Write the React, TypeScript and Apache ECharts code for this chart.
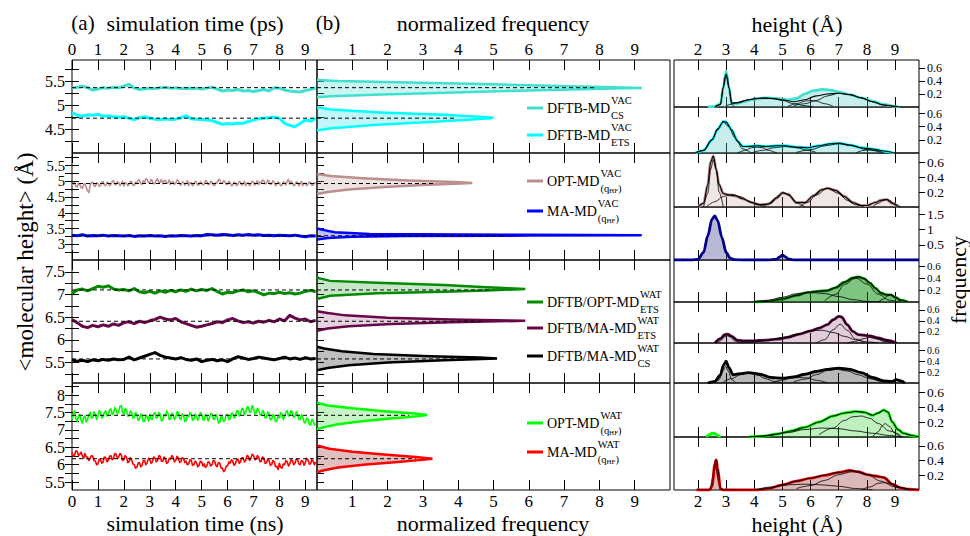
import React, { useEffect, useRef } from "react";
import * as echarts from "echarts";

type P = [number, number];
const SERIF = "Liberation Serif, DejaVu Serif, serif";
const SERIF_CSS = "'Liberation Serif', 'DejaVu Serif', serif";

// ---------------- tick values ----------------
const timeTicks = [0, 1, 2, 3, 4, 5, 6, 7, 8, 9];
const freqTicks = [1, 2, 3, 4, 5, 6, 7, 8, 9];
const heightTicks = [2, 3, 4, 5, 6, 7, 8, 9];

const rowYLabels = [
  [4.5, 5, 5.5],
  [3, 3.5, 4, 4.5, 5, 5.5],
  [5.5, 6, 6.5, 7, 7.5],
  [5.5, 6, 6.5, 7, 7.5, 8],
];
const rowYTicks = [
  [4.25, 4.5, 4.75, 5, 5.25, 5.5, 5.75],
  [2.75, 3, 3.25, 3.5, 3.75, 4, 4.25, 4.5, 4.75, 5, 5.25, 5.5, 5.75],
  [5.25, 5.5, 5.75, 6, 6.25, 6.5, 6.75, 7, 7.25, 7.5],
  [5.5, 5.75, 6, 6.25, 6.5, 6.75, 7, 7.25, 7.5, 7.75, 8, 8.25],
];
const rowYRange = [
  [4.0, 5.95],
  [2.5, 5.9],
  [5.05, 7.76],
  [5.27, 8.35],
];
const rightYMax = [0.72, 0.7, 0.72, 1.75, 0.7, 0.74, 0.73, 0.72, 0.72];
const rightYTicks = [
  [0.2, 0.4, 0.6], [0.2, 0.4, 0.6], [0.2, 0.4, 0.6], [0.5, 1, 1.5],
  [0.2, 0.4, 0.6], [0.2, 0.4, 0.6], [0.2, 0.4, 0.6], [0.2, 0.4, 0.6], [0.2, 0.4, 0.6],
];
const TIME_MAX = 9.45;
const FREQ_MAX = 10;
const HEIGHT_MIN = 1.15;
const HEIGHT_MAX = 9.85;

// ---------------- (a) time series ----------------
const STEP_SMOOTH = 0.2; // sampling of the smoother traces
const STEP_NOISY = 0.05; // sampling of the noisy traces

const csVacTime = [
  5.36, 5.38, 5.40, 5.37, 5.32, 5.34, 5.37, 5.36, 5.38, 5.37,
  5.40, 5.44, 5.36, 5.33, 5.34, 5.36, 5.35, 5.37, 5.38, 5.36,
  5.37, 5.35, 5.36, 5.35, 5.36, 5.34, 5.36, 5.38, 5.34, 5.30,
  5.32, 5.31, 5.33, 5.30, 5.31, 5.29, 5.31, 5.33, 5.30, 5.37,
  5.36, 5.32, 5.30, 5.29, 5.28, 5.31, 5.33, 5.37,
];
const etsVacTime = [
  4.84, 4.79, 4.77, 4.80, 4.79, 4.81, 4.77, 4.78, 4.76, 4.75,
  4.76, 4.73, 4.70, 4.74, 4.76, 4.73, 4.71, 4.70, 4.72, 4.70,
  4.71, 4.74, 4.78, 4.72, 4.71, 4.70, 4.69, 4.68, 4.64, 4.60,
  4.62, 4.61, 4.63, 4.62, 4.66, 4.69, 4.72, 4.73, 4.74, 4.75,
  4.73, 4.62, 4.58, 4.55, 4.62, 4.69, 4.67, 4.72,
];
const optVacTime = [
  4.86, 4.96, 4.95, 4.84, 4.82, 4.94, 4.90, 4.80, 4.78, 4.90,
  4.92, 4.80, 4.70, 4.64, 4.88, 4.96, 4.97, 4.86, 4.84, 4.95,
  4.93, 4.84, 4.88, 4.98, 4.99, 4.88, 4.86, 4.97, 4.95, 4.86,
  4.90, 5.00, 5.02, 4.90, 4.89, 4.98, 4.96, 4.86, 4.92, 5.00,
  4.85, 4.96, 4.94, 4.86, 4.90, 5.00, 4.99, 4.88, 4.87, 4.98,
  4.93, 5.04, 5.04, 4.92, 4.91, 5.02, 4.97, 5.08, 5.06, 4.96,
  4.95, 5.06, 5.01, 4.92, 4.93, 5.04, 5.08, 4.96, 4.97, 5.06,
  4.92, 5.02, 5.03, 4.94, 4.96, 5.04, 4.90, 4.98, 4.99, 4.90,
  4.94, 5.04, 5.02, 4.92, 4.88, 4.98, 4.97, 4.88, 4.93, 5.02,
  4.86, 4.96, 4.95, 4.86, 4.91, 5.00, 4.98, 4.88, 4.89, 4.98,
  4.96, 4.88, 4.92, 5.02, 5.00, 4.90, 4.90, 5.00, 4.97, 4.88,
  4.87, 4.96, 4.95, 5.06, 5.05, 4.94, 4.93, 5.02, 4.99, 4.90,
  4.91, 5.00, 4.96, 4.86, 4.88, 4.98, 4.94, 4.86, 4.90, 5.00,
  4.97, 4.88, 4.92, 5.00, 4.86, 4.94, 4.95, 4.86, 4.91, 5.00,
  4.98, 4.88, 4.93, 5.02, 4.89, 4.98, 4.96, 5.04, 5.02, 4.92,
  4.94, 5.04, 4.99, 4.90, 4.92, 5.02, 4.97, 4.86, 4.90, 4.98,
  4.95, 4.86, 4.88, 4.98, 4.96, 4.88, 5.00, 5.06, 4.91, 5.00,
  4.95, 4.86, 4.89, 4.98, 4.97, 4.86, 4.92, 5.00, 4.86, 4.94,
  4.94, 4.86, 4.90, 4.98, 4.96, 4.88, 4.88, 4.96, 4.93,
];
const maVacTime = [
  3.29, 3.27, 3.30, 3.26, 3.28, 3.27, 3.29, 3.26, 3.28, 3.27,
  3.26, 3.28, 3.25, 3.27, 3.26, 3.28, 3.26, 3.27, 3.25, 3.27,
  3.26, 3.28, 3.27, 3.26, 3.28, 3.27, 3.31, 3.30, 3.29, 3.31,
  3.30, 3.28, 3.30, 3.29, 3.31, 3.29, 3.30, 3.28, 3.29, 3.27,
  3.29, 3.28, 3.27, 3.29, 3.26, 3.24, 3.27, 3.26,
];
const dftbOptWatTime = [
  7.02, 7.10, 7.12, 7.08, 7.13, 7.18, 7.16, 7.19, 7.12, 7.10,
  7.11, 7.08, 7.13, 7.06, 7.04, 7.07, 7.03, 7.08, 7.05, 7.09,
  7.06, 7.10, 7.07, 7.12, 7.08, 7.11, 7.09, 7.13, 7.07, 7.01,
  7.05, 7.04, 7.08, 7.10, 7.06, 7.08, 7.04, 6.99, 7.03, 7.02,
  7.05, 7.02, 7.04, 7.01, 7.03, 7.07, 7.09, 7.06,
];
const dftbMaEtsWatTime = [
  6.45, 6.38, 6.30, 6.27, 6.32, 6.29, 6.33, 6.30, 6.35, 6.32,
  6.38, 6.40, 6.36, 6.41, 6.38, 6.42, 6.45, 6.50, 6.46, 6.44,
  6.47, 6.40, 6.36, 6.32, 6.28, 6.30, 6.33, 6.36, 6.40, 6.38,
  6.44, 6.47, 6.42, 6.38, 6.40, 6.37, 6.41, 6.39, 6.43, 6.40,
  6.46, 6.42, 6.54, 6.48, 6.44, 6.46, 6.40, 6.43,
];
const dftbMaCsWatTime = [
  5.56, 5.53, 5.55, 5.52, 5.56, 5.54, 5.57, 5.55, 5.58, 5.56,
  5.57, 5.62, 5.56, 5.60, 5.64, 5.68, 5.72, 5.66, 5.62, 5.60,
  5.58, 5.61, 5.57, 5.55, 5.58, 5.52, 5.55, 5.57, 5.54, 5.56,
  5.52, 5.58, 5.63, 5.60, 5.57, 5.59, 5.62, 5.60, 5.58, 5.56,
  5.59, 5.62, 5.58, 5.60, 5.57, 5.61, 5.58, 5.59,
];
const optWatTime = [
  7.30, 7.48, 7.55, 7.32, 7.25, 7.40, 7.45, 7.28, 7.20, 7.36,
  7.40, 7.22, 7.30, 7.44, 7.50, 7.34, 7.35, 7.52, 7.45, 7.30,
  7.40, 7.56, 7.50, 7.34, 7.38, 7.50, 7.55, 7.40, 7.42, 7.58,
  7.60, 7.44, 7.48, 7.64, 7.58, 7.46, 7.52, 7.68, 7.70, 7.50,
  7.45, 7.62, 7.58, 7.40, 7.40, 7.55, 7.50, 7.34, 7.35, 7.50,
  7.44, 7.28, 7.30, 7.46, 7.42, 7.24, 7.25, 7.42, 7.38, 7.26,
  7.45, 7.32, 7.30, 7.46, 7.50, 7.34, 7.36, 7.50, 7.44, 7.26,
  7.28, 7.44, 7.40, 7.54, 7.48, 7.30, 7.32, 7.48, 7.45, 7.30,
  7.36, 7.52, 7.50, 7.34, 7.30, 7.46, 7.42, 7.24, 7.26, 7.42,
  7.38, 7.50, 7.44, 7.28, 7.30, 7.46, 7.40, 7.28, 7.35, 7.50,
  7.46, 7.30, 7.28, 7.44, 7.40, 7.26, 7.34, 7.48, 7.46, 7.32,
  7.30, 7.44, 7.38, 7.20, 7.22, 7.40, 7.36, 7.24, 7.28, 7.44,
  7.44, 7.30, 7.32, 7.48, 7.48, 7.34, 7.38, 7.54, 7.55, 7.40,
  7.45, 7.62, 7.60, 7.44, 7.50, 7.66, 7.66, 7.50, 7.52, 7.70,
  7.62, 7.46, 7.48, 7.62, 7.58, 7.44, 7.42, 7.56, 7.50, 7.34,
  7.36, 7.52, 7.46, 7.30, 7.30, 7.44, 7.40, 7.24, 7.25, 7.40,
  7.35, 7.50, 7.45, 7.30, 7.38, 7.52, 7.55, 7.40, 7.42, 7.56,
  7.50, 7.36, 7.40, 7.52, 7.45, 7.30, 7.30, 7.44, 7.38, 7.22,
  7.20, 7.34, 7.32, 7.16, 7.14, 7.30, 7.28, 7.14, 7.18,
];
const maWatTime = [
  6.35, 6.24, 6.28, 6.40, 6.38, 6.26, 6.30, 6.36, 6.25, 6.18,
  6.32, 6.22, 6.22, 6.12, 6.18, 6.26, 6.24, 6.12, 6.10, 6.00,
  6.02, 6.16, 6.14, 6.04, 6.08, 6.22, 6.20, 6.08, 6.12, 6.24,
  6.26, 6.14, 6.18, 6.32, 6.30, 6.18, 6.22, 6.32, 6.28, 6.12,
  6.15, 6.26, 6.22, 6.06, 6.08, 6.20, 6.14, 6.02, 6.00, 5.90,
  5.92, 6.04, 6.06, 5.94, 5.98, 6.12, 6.12, 6.00, 6.05, 6.18,
  6.15, 6.04, 6.08, 6.22, 6.20, 6.08, 6.12, 6.26, 6.24, 6.10,
  6.10, 6.22, 6.18, 6.04, 6.06, 6.18, 6.16, 6.26, 6.22, 6.08,
  6.12, 6.24, 6.20, 6.06, 6.08, 6.20, 6.18, 6.06, 6.10, 6.00,
  6.02, 6.14, 6.12, 5.98, 6.00, 6.10, 6.06, 5.94, 5.98, 6.10,
  6.08, 5.96, 6.02, 5.92, 5.96, 6.08, 6.06, 5.96, 6.00, 6.12,
  6.10, 5.98, 5.94, 6.06, 6.04, 5.90, 5.90, 5.80, 5.84, 5.96,
  5.96, 6.08, 6.04, 6.14, 6.10, 5.98, 6.02, 6.14, 6.16, 6.04,
  6.08, 6.20, 6.20, 6.08, 6.12, 6.26, 6.24, 6.12, 6.18, 6.30,
  6.26, 6.14, 6.16, 6.26, 6.22, 6.08, 6.10, 6.22, 6.18, 6.04,
  6.05, 6.16, 6.12, 5.98, 6.00, 6.12, 6.08, 5.94, 5.95, 5.86,
  6.04, 5.92, 5.90, 6.02, 6.00, 6.12, 6.08, 5.96, 6.02, 6.14,
  6.12, 6.00, 6.04, 6.16, 6.14, 6.02, 6.00, 6.12, 6.10, 5.98,
  6.06, 6.18, 6.14, 6.02, 6.02, 6.14, 6.10, 6.00, 6.08,
];

// mean heights (dashed lines) and where the dashed line stops in (b)
const means = [5.37, 4.73, 4.93, 3.27, 7.1, 6.41, 5.58, 7.42, 6.17];
const dashEnds = [7.9, 3.97, 3.3, 5.3, 4.9, 4.7, 4.8, 2.6, 2.8];

// ---------------- (b) normalized frequency [freq, height] ----------------
const csVacDist: P[] = [[0, 5.17], [0.4, 5.19], [1.6, 5.22], [3.4, 5.26], [5.4, 5.30], [7.2, 5.33], [8.4, 5.35], [9.2, 5.365], [8.4, 5.38], [7.2, 5.40], [5.0, 5.44], [2.6, 5.48], [0.6, 5.51], [0, 5.53]];
const etsVacDist: P[] = [[0, 4.47], [0.4, 4.52], [1.7, 4.59], [3.2, 4.65], [4.4, 4.70], [4.9, 4.73], [5.0, 4.74], [4.6, 4.76], [3.6, 4.80], [1.8, 4.85], [0.4, 4.91], [0, 4.96]];
const optVacDist: P[] = [[0, 4.60], [0.3, 4.66], [0.9, 4.74], [1.9, 4.82], [3.0, 4.88], [3.9, 4.92], [4.4, 4.95], [3.9, 4.98], [2.6, 5.03], [1.3, 5.10], [0.4, 5.17], [0, 5.23]];
const maVacDist: P[] = [[0, 3.15], [0.3, 3.20], [1.0, 3.24], [2.5, 3.26], [6.0, 3.275], [9.2, 3.285], [6.0, 3.30], [1.5, 3.33], [0.5, 3.38], [0.2, 3.45], [0, 3.50]];
const dftbOptWatDist: P[] = [[0, 6.90], [0.37, 6.97], [1.7, 7.03], [3.6, 7.06], [4.8, 7.09], [5.9, 7.12], [4.8, 7.16], [3.6, 7.21], [1.7, 7.26], [0.37, 7.30], [0.05, 7.36], [0, 7.39]];
const dftbMaEtsWatDist: P[] = [[0, 6.20], [0.3, 6.25], [0.9, 6.30], [2.1, 6.35], [3.8, 6.39], [5.9, 6.42], [3.8, 6.45], [2.0, 6.49], [0.8, 6.54], [0.3, 6.59], [0, 6.63]];
const dftbMaCsWatDist: P[] = [[0, 5.33], [0.3, 5.38], [0.9, 5.44], [2.0, 5.50], [3.6, 5.55], [5.1, 5.59], [4.6, 5.61], [3.2, 5.64], [1.6, 5.69], [0.7, 5.75], [0.2, 5.81], [0, 5.85]];
const optWatDist: P[] = [[0, 7.02], [0.2, 7.08], [0.6, 7.16], [1.2, 7.24], [2.0, 7.32], [2.7, 7.38], [3.12, 7.43], [2.7, 7.48], [1.9, 7.54], [1.0, 7.62], [0.3, 7.70], [0, 7.78]];
const maWatDist: P[] = [[0, 5.78], [0.2, 5.84], [0.6, 5.92], [1.3, 6.00], [2.2, 6.07], [2.9, 6.13], [3.27, 6.17], [2.8, 6.22], [1.9, 6.29], [1.0, 6.37], [0.35, 6.46], [0, 6.55]];

// ---------------- (c) height distributions [height, frequency] ----------------
const csVacHist: P[] = [[2.35, 0], [2.6, 0.01], [2.8, 0.05], [2.9, 0.3], [3.0, 0.55], [3.1, 0.3], [3.2, 0.06], [3.35, 0.05], [3.6, 0.08], [4.0, 0.12], [4.4, 0.14], [4.8, 0.13], [5.2, 0.11], [5.5, 0.13], [5.8, 0.2], [6.1, 0.25], [6.4, 0.27], [6.7, 0.26], [7.0, 0.23], [7.4, 0.19], [7.8, 0.14], [8.2, 0.09], [8.6, 0.04], [9.0, 0.01], [9.15, 0]];
const csVacFit: P[] = [[2.6, 0], [2.8, 0.04], [2.9, 0.3], [3.0, 0.5], [3.1, 0.3], [3.2, 0.06], [3.4, 0.07], [3.8, 0.11], [4.2, 0.135], [4.6, 0.13], [5.0, 0.11], [5.4, 0.08], [5.8, 0.11], [6.2, 0.17], [6.6, 0.2], [7.0, 0.21], [7.4, 0.19], [7.8, 0.14], [8.2, 0.08], [8.6, 0.03], [9.0, 0.01], [9.15, 0]];
const csVacComps: P[][] = [
  [[2.62, 0], [2.8, 0.04], [2.9, 0.3], [2.95, 0.45], [3.0, 0.5], [3.05, 0.45], [3.1, 0.3], [3.2, 0.04], [3.3, 0]],
  [[3.0, 0.02], [3.4, 0.06], [3.8, 0.11], [4.1, 0.135], [4.4, 0.14], [4.7, 0.13], [5.0, 0.1], [5.4, 0.05], [5.8, 0.02], [6.1, 0]],
  [[5.2, 0.01], [5.5, 0.05], [5.8, 0.09], [6.0, 0.1], [6.2, 0.09], [6.5, 0.05], [6.8, 0.01]],
  [[5.4, 0.02], [5.8, 0.05], [6.2, 0.1], [6.6, 0.17], [7.0, 0.21], [7.4, 0.19], [7.8, 0.14], [8.2, 0.08], [8.6, 0.03], [9.0, 0.01]],
];
const etsVacHist: P[] = [[1.9, 0], [2.2, 0.04], [2.5, 0.2], [2.7, 0.36], [2.9, 0.48], [3.0, 0.47], [3.2, 0.35], [3.4, 0.18], [3.6, 0.1], [3.8, 0.1], [4.1, 0.11], [4.4, 0.1], [4.8, 0.11], [5.1, 0.11], [5.5, 0.09], [5.9, 0.08], [6.3, 0.11], [6.7, 0.14], [7.0, 0.15], [7.4, 0.12], [7.8, 0.08], [8.2, 0.06], [8.6, 0.03], [8.95, 0]];
const etsVacComps: P[][] = [
  [[1.9, 0], [2.2, 0.04], [2.5, 0.2], [2.7, 0.37], [2.9, 0.47], [3.1, 0.4], [3.3, 0.24], [3.6, 0.06], [3.9, 0]],
  [[3.4, 0], [3.7, 0.04], [3.9, 0.08], [4.1, 0.09], [4.3, 0.08], [4.5, 0.04], [4.8, 0]],
  [[3.9, 0], [4.3, 0.04], [4.7, 0.08], [5.1, 0.1], [5.5, 0.08], [5.9, 0.04], [6.2, 0.01]],
  [[5.5, 0.01], [6.0, 0.05], [6.5, 0.11], [7.0, 0.14], [7.5, 0.11], [8.0, 0.05], [8.5, 0.01]],
  [[7.6, 0], [7.9, 0.04], [8.1, 0.05], [8.3, 0.04], [8.6, 0]],
];
const optVacHist: P[] = [[2.0, 0], [2.2, 0.05], [2.35, 0.3], [2.45, 0.6], [2.55, 0.68], [2.65, 0.5], [2.75, 0.3], [2.9, 0.18], [3.1, 0.16], [3.3, 0.15], [3.6, 0.11], [3.9, 0.06], [4.2, 0.03], [4.5, 0.04], [4.8, 0.12], [5.0, 0.19], [5.2, 0.17], [5.5, 0.06], [5.8, 0.06], [6.1, 0.15], [6.4, 0.23], [6.6, 0.25], [6.9, 0.22], [7.2, 0.14], [7.5, 0.06], [7.8, 0.02], [8.0, 0.02], [8.3, 0.06], [8.5, 0.09], [8.7, 0.1], [8.9, 0.05], [9.1, 0]];
const optVacComps: P[][] = [
  [[2.2, 0], [2.35, 0.18], [2.45, 0.5], [2.55, 0.63], [2.65, 0.5], [2.75, 0.2], [2.9, 0]],
  [[2.3, 0], [2.6, 0.07], [2.9, 0.14], [3.2, 0.17], [3.5, 0.14], [3.8, 0.08], [4.1, 0.03], [4.4, 0]],
  [[4.3, 0], [4.6, 0.05], [4.85, 0.15], [5.05, 0.19], [5.25, 0.15], [5.5, 0.05], [5.8, 0]],
  [[5.6, 0], [5.9, 0.06], [6.2, 0.16], [6.6, 0.25], [7.0, 0.18], [7.3, 0.09], [7.6, 0.03], [7.9, 0]],
  [[8.2, 0], [8.4, 0.05], [8.6, 0.09], [8.7, 0.1], [8.8, 0.09], [9.0, 0.04], [9.2, 0]],
];
const maVacHist: P[] = [[1.15, 0], [1.8, 0], [2.0, 0.02], [2.2, 0.25], [2.35, 0.8], [2.5, 1.35], [2.6, 1.46], [2.7, 1.3], [2.85, 0.75], [3.0, 0.25], [3.15, 0.06], [3.3, 0.01], [3.6, 0], [4.5, 0], [4.8, 0.03], [4.9, 0.1], [5.0, 0.16], [5.1, 0.11], [5.2, 0.04], [5.4, 0], [6.0, 0], [9.85, 0]];
const dftbOptWatHist: P[] = [[4.0, 0], [4.5, 0.01], [5.0, 0.05], [5.5, 0.11], [5.9, 0.16], [6.3, 0.18], [6.6, 0.19], [6.9, 0.24], [7.2, 0.33], [7.5, 0.4], [7.7, 0.42], [7.9, 0.39], [8.1, 0.32], [8.3, 0.23], [8.5, 0.15], [8.7, 0.12], [8.85, 0.12], [9.0, 0.08], [9.2, 0.03], [9.45, 0]];
const dftbOptWatComps: P[][] = [
  [[4.0, 0], [4.5, 0.03], [5.0, 0.08], [5.5, 0.14], [6.0, 0.16], [6.5, 0.14], [7.0, 0.09], [7.5, 0.04], [8.0, 0.01], [8.5, 0]],
  [[6.5, 0.02], [6.9, 0.13], [7.2, 0.29], [7.6, 0.4], [8.0, 0.3], [8.4, 0.13], [8.8, 0.03], [9.1, 0]],
  [[8.4, 0], [8.6, 0.05], [8.75, 0.11], [8.85, 0.12], [9.0, 0.08], [9.2, 0]],
];
const dftbMaEtsWatHist: P[] = [[2.6, 0], [2.8, 0.08], [2.95, 0.15], [3.05, 0.16], [3.2, 0.12], [3.4, 0.05], [3.6, 0.04], [4.0, 0.04], [4.4, 0.05], [4.8, 0.07], [5.2, 0.1], [5.6, 0.16], [6.0, 0.22], [6.3, 0.27], [6.6, 0.33], [6.8, 0.42], [7.0, 0.48], [7.1, 0.47], [7.3, 0.33], [7.5, 0.21], [7.7, 0.15], [7.9, 0.14], [8.1, 0.13], [8.4, 0.09], [8.7, 0.05], [9.05, 0]];
const dftbMaEtsWatComps: P[][] = [
  [[2.6, 0], [2.8, 0.04], [2.95, 0.11], [3.05, 0.13], [3.15, 0.11], [3.3, 0.04], [3.5, 0]],
  [[3.5, 0], [4.0, 0.02], [4.5, 0.05], [5.0, 0.1], [5.5, 0.16], [6.0, 0.22], [6.4, 0.23], [6.8, 0.19], [7.2, 0.12], [7.6, 0.06], [8.0, 0.02], [8.4, 0]],
  [[6.2, 0], [6.5, 0.06], [6.8, 0.24], [7.05, 0.34], [7.3, 0.23], [7.6, 0.07], [7.9, 0]],
  [[7.3, 0], [7.6, 0.03], [7.9, 0.08], [8.1, 0.1], [8.3, 0.08], [8.6, 0.03], [8.9, 0]],
];
const dftbMaCsWatHist: P[] = [[2.35, 0], [2.6, 0.03], [2.8, 0.15], [2.9, 0.32], [3.0, 0.4], [3.1, 0.28], [3.25, 0.15], [3.5, 0.17], [3.8, 0.19], [4.2, 0.16], [4.6, 0.1], [5.0, 0.09], [5.4, 0.11], [5.8, 0.16], [6.2, 0.21], [6.6, 0.25], [7.0, 0.27], [7.4, 0.25], [7.8, 0.19], [8.2, 0.1], [8.6, 0.04], [8.9, 0.03], [9.05, 0.06], [9.2, 0.04], [9.35, 0]];
const dftbMaCsWatComps: P[][] = [
  [[2.6, 0], [2.75, 0.06], [2.88, 0.22], [2.98, 0.3], [3.08, 0.22], [3.2, 0.06], [3.35, 0]],
  [[2.9, 0.02], [3.2, 0.08], [3.5, 0.15], [3.8, 0.18], [4.1, 0.15], [4.4, 0.08], [4.7, 0.03], [5.0, 0]],
  [[4.6, 0], [5.0, 0.05], [5.3, 0.09], [5.6, 0.1], [5.9, 0.09], [6.2, 0.05], [6.6, 0]],
  [[5.4, 0.02], [5.8, 0.07], [6.2, 0.15], [6.6, 0.23], [6.9, 0.25], [7.3, 0.22], [7.7, 0.15], [8.1, 0.08], [8.5, 0.03], [8.9, 0]],
];
const optWatHist: P[] = [[3.8, 0], [4.3, 0.01], [4.8, 0.04], [5.3, 0.08], [5.8, 0.13], [6.3, 0.2], [6.8, 0.28], [7.2, 0.32], [7.6, 0.34], [7.9, 0.33], [8.2, 0.29], [8.4, 0.32], [8.6, 0.36], [8.75, 0.33], [8.9, 0.2], [9.1, 0.1], [9.3, 0.05], [9.6, 0.02], [9.85, 0]];
const optWatBump: P[] = [[2.3, 0], [2.4, 0.03], [2.5, 0.05], [2.6, 0.045], [2.7, 0.02], [2.8, 0]];
const optWatComps: P[][] = [
  [[3.8, 0], [4.5, 0.02], [5.2, 0.06], [5.8, 0.1], [6.4, 0.12], [7.0, 0.11], [7.6, 0.08], [8.2, 0.05], [8.8, 0.02], [9.3, 0]],
  [[6.3, 0.03], [6.8, 0.12], [7.2, 0.22], [7.5, 0.27], [7.8, 0.28], [8.1, 0.25], [8.4, 0.18], [8.8, 0.08], [9.2, 0.02]],
  [[8.2, 0], [8.4, 0.07], [8.55, 0.15], [8.65, 0.18], [8.8, 0.14], [9.0, 0.05], [9.2, 0]],
];
const maWatHist: P[] = [[1.95, 0], [2.4, 0], [2.5, 0.05], [2.6, 0.35], [2.65, 0.41], [2.7, 0.3], [2.8, 0.02], [2.9, 0], [3.5, 0], [4.1, 0], [4.5, 0.02], [5.0, 0.07], [5.5, 0.12], [6.0, 0.16], [6.5, 0.2], [7.0, 0.24], [7.4, 0.265], [7.7, 0.25], [8.0, 0.21], [8.3, 0.19], [8.6, 0.17], [8.9, 0.08], [9.2, 0.03], [9.5, 0.01], [9.85, 0]];
const maWatSpike: P[] = [[2.45, 0], [2.55, 0.2], [2.63, 0.41], [2.7, 0.2], [2.8, 0]];
const maWatComps: P[][] = [
  [[5.5, 0.02], [6.0, 0.06], [6.5, 0.13], [7.0, 0.21], [7.5, 0.25], [8.0, 0.21], [8.5, 0.12], [9.0, 0.04], [9.5, 0.01]],
  [[4.0, 0], [4.6, 0.04], [5.2, 0.07], [5.8, 0.08], [6.4, 0.07], [7.0, 0.05], [7.6, 0.02], [8.2, 0]],
  [[7.8, 0], [8.1, 0.04], [8.4, 0.09], [8.6, 0.1], [8.8, 0.09], [9.1, 0.04], [9.4, 0]],
];

// ---------------- colours ----------------
const TURQ = "#40E0D0";
const CYAN = "#00FFFF";
const BROWN = "#BC8F8F";
const BLUE = "#0000FF";
const NAVY = "#00008B";
const GREEN4 = "#008B00";
const MAROON = "#670748";
const BLACK = "#000000";
const GREEN = "#00FF00";
const RED = "#FF0000";

// ---------------- layout ----------------
const rowPx = [[60, 153], [153, 260], [260, 383], [383, 490]];
const rightPx = [[60, 107], [107, 153], [153, 207], [207, 260], [260, 302], [302, 343], [343, 383], [383, 437], [437, 490]];

const traces = [
  { row: 0, data: csVacTime, step: STEP_SMOOTH, color: TURQ, width: 3, dist: csVacDist, fill: "rgba(64,224,208,0.28)" },
  { row: 0, data: etsVacTime, step: STEP_SMOOTH, color: CYAN, width: 3, dist: etsVacDist, fill: "rgba(0,220,230,0.25)" },
  { row: 1, data: optVacTime, step: STEP_NOISY, color: BROWN, width: 1.6, dist: optVacDist, fill: "rgba(188,143,143,0.25)" },
  { row: 1, data: maVacTime, step: STEP_SMOOTH, color: BLUE, width: 3, dist: maVacDist, fill: "rgba(0,0,255,0.25)" },
  { row: 2, data: dftbOptWatTime, step: STEP_SMOOTH, color: GREEN4, width: 3, dist: dftbOptWatDist, fill: "rgba(0,139,0,0.22)" },
  { row: 2, data: dftbMaEtsWatTime, step: STEP_SMOOTH, color: MAROON, width: 3, dist: dftbMaEtsWatDist, fill: "rgba(103,7,72,0.18)" },
  { row: 2, data: dftbMaCsWatTime, step: STEP_SMOOTH, color: BLACK, width: 3, dist: dftbMaCsWatDist, fill: "rgba(0,0,0,0.25)" },
  { row: 3, data: optWatTime, step: STEP_NOISY, color: GREEN, width: 1.6, dist: optWatDist, fill: "rgba(0,200,0,0.22)" },
  { row: 3, data: maWatTime, step: STEP_NOISY, color: RED, width: 1.6, dist: maWatDist, fill: "rgba(139,0,0,0.25)" },
];

const rightPanels = [
  { hists: [csVacHist], fit: csVacFit, comps: csVacComps, line: TURQ, fill: "rgba(80,200,195,0.32)" },
  { hists: [etsVacHist], fit: null, comps: etsVacComps, line: CYAN, fill: "rgba(80,200,195,0.32)" },
  { hists: [optVacHist], fit: null, comps: optVacComps, line: BROWN, fill: "rgba(188,143,143,0.22)" },
  { hists: [maVacHist], fit: null, comps: [], line: NAVY, fill: "rgba(80,80,150,0.4)" },
  { hists: [dftbOptWatHist], fit: null, comps: dftbOptWatComps, line: GREEN4, fill: "rgba(0,139,0,0.5)" },
  { hists: [dftbMaEtsWatHist], fit: null, comps: dftbMaEtsWatComps, line: MAROON, fill: "rgba(103,7,72,0.2)" },
  { hists: [dftbMaCsWatHist], fit: null, comps: dftbMaCsWatComps, line: BLACK, fill: "rgba(0,0,0,0.28)" },
  { hists: [optWatHist, optWatBump], fit: null, comps: optWatComps, line: GREEN, fill: "rgba(0,200,0,0.25)" },
  { hists: [maWatHist], fit: null, comps: maWatComps, line: RED, fill: "rgba(139,20,20,0.3)", spike: maWatSpike },
];

const legendItems = [
  { y: 108, color: TURQ, main: "DFTB-MD", sup: "VAC", sub: "CS" },
  { y: 135, color: CYAN, main: "DFTB-MD", sup: "VAC", sub: "ETS" },
  { y: 181, color: BROWN, main: "OPT-MD", sup: "VAC", sub: "q" },
  { y: 211, color: BLUE, main: "MA-MD", sup: "VAC", sub: "q" },
  { y: 302, color: GREEN4, main: "DFTB/OPT-MD", sup: "WAT", sub: "ETS" },
  { y: 328, color: MAROON, main: "DFTB/MA-MD", sup: "WAT", sub: "ETS" },
  { y: 356, color: BLACK, main: "DFTB/MA-MD", sup: "WAT", sub: "CS" },
  { y: 423, color: GREEN, main: "OPT-MD", sup: "WAT", sub: "q" },
  { y: 452, color: RED, main: "MA-MD", sup: "WAT", sub: "q" },
];

function textEl(text: string, x: number, y: number, size: number, align = "center", rotation = 0) {
  return {
    type: "text",
    x,
    y,
    rotation,
    silent: true,
    style: {
      text,
      fontSize: size,
      fontFamily: SERIF,
      fill: "#000",
      align,
      textAlign: align,
      verticalAlign: "middle",
      textVerticalAlign: "middle",
    },
  };
}

type YLabelSpec = { yi: number; values: number[]; x: number; size: number; align: string };

function buildOption() {
  const grid: any[] = [];
  const xAxis: any[] = [];
  const yAxis: any[] = [];
  const series: any[] = [];
  const graphic: any[] = [];
  const yLabels: YLabelSpec[] = [];
  const tickStyle = { color: "#000", width: 1 };
  const lbl = (show: boolean, values: number[], size: number, margin: number) => ({
    show,
    customValues: values,
    fontSize: size,
    margin,
    color: "#000",
    fontFamily: SERIF,
  });

  const addGrid = (l: number, t: number, r: number, b: number) => {
    grid.push({ left: l, top: t, width: r - l, height: b - t, show: true, borderColor: "#000", borderWidth: 1, backgroundColor: "transparent" });
    return grid.length - 1;
  };
  const addX = (g: number, min: number, max: number, ticks: number[], topLbl: boolean, botLbl: boolean) => {
    const base = {
      gridIndex: g, type: "value", min, max,
      axisLine: { show: false }, splitLine: { show: false },
      axisTick: { inside: true, length: 10, customValues: ticks, lineStyle: tickStyle },
    };
    xAxis.push({ ...base, position: "bottom", axisLabel: lbl(botLbl, ticks, 17, 3) });
    const bi = xAxis.length - 1;
    xAxis.push({ ...base, position: "top", axisLabel: lbl(topLbl, ticks, 17, 2) });
    return bi;
  };
  const addY = (g: number, min: number, max: number, pos: string, ticks: number[], inside: boolean, len: number) => {
    yAxis.push({
      gridIndex: g, type: "value", min, max, position: pos,
      axisLine: { show: false }, splitLine: { show: false },
      axisTick: { inside, length: len, customValues: ticks, lineStyle: tickStyle },
      axisLabel: { show: false },
    });
    return yAxis.length - 1;
  };

  // rows of (a) and (b)
  const leftAx: { x: number; y: number }[] = [];
  const midAx: { x: number; y: number }[] = [];
  rowPx.forEach(([top, bottom], r) => {
    const [mn, mx] = rowYRange[r];
    const gL = addGrid(72, top, 317, bottom);
    const xL = addX(gL, 0, TIME_MAX, timeTicks, r === 0, r === 3);
    const yL = addY(gL, mn, mx, "left", rowYTicks[r], true, 7);
    yLabels.push({ yi: yL, values: rowYLabels[r], x: 65, size: 16, align: "right" });
    addY(gL, mn, mx, "right", rowYTicks[r], true, 7);
    leftAx.push({ x: xL, y: yL });
    const gM = addGrid(317, top, 670, bottom);
    const xM = addX(gM, 0, FREQ_MAX, freqTicks, r === 0, r === 3);
    const yM = addY(gM, mn, mx, "left", rowYTicks[r], true, 7);
    midAx.push({ x: xM, y: yM });
  });

  traces.forEach((t, i) => {
    const la = leftAx[t.row];
    const ma = midAx[t.row];
    series.push({
      type: "line", xAxisIndex: la.x, yAxisIndex: la.y, silent: true, symbol: "none", z: 3,
      data: t.data.map((v, k) => [k * t.step, v]),
      lineStyle: { color: t.color, width: t.width, join: "round" },
    });
    series.push({
      type: "line", xAxisIndex: la.x, yAxisIndex: la.y, silent: true, symbol: "none", z: 4,
      data: [[0, means[i]], [TIME_MAX, means[i]]],
      lineStyle: { color: "#000", width: 1, type: [4, 3] },
    });
    const pts = t.dist;
    series.push({
      type: "custom", xAxisIndex: ma.x, yAxisIndex: ma.y, silent: true, z: 3,
      data: [[pts[0][0], pts[0][1]]],
      renderItem: (_p: any, api: any) => {
        const c = pts.map((p) => api.coord(p));
        return {
          type: "group",
          children: [
            { type: "polygon", shape: { points: c }, style: { fill: t.fill, stroke: null } },
            { type: "polyline", shape: { points: c }, style: { stroke: t.color, lineWidth: 2.5, fill: "none" } },
          ],
        };
      },
    });
    series.push({
      type: "line", xAxisIndex: ma.x, yAxisIndex: ma.y, silent: true, symbol: "none", z: 4,
      data: [[0, means[i]], [dashEnds[i], means[i]]],
      lineStyle: { color: "#000", width: 1, type: [4, 3] },
    });
  });

  // (c) height distributions
  rightPanels.forEach((p, k) => {
    const [top, bottom] = rightPx[k];
    const g = addGrid(674, top, 919, bottom);
    const xi = addX(g, HEIGHT_MIN, HEIGHT_MAX, heightTicks, k === 0, k === rightPanels.length - 1);
    const yi = addY(g, 0, rightYMax[k], "right", rightYTicks[k], false, 6);
    yLabels.push({ yi, values: rightYTicks[k], x: 927, size: 13.5, align: "left" });
    p.hists.forEach((h) => {
      series.push({
        type: "line", xAxisIndex: xi, yAxisIndex: yi, silent: true, symbol: "none", z: 2,
        smooth: 0.3, smoothMonotone: "x", data: h,
        lineStyle: { color: p.line, width: 2.8 },
        areaStyle: { color: p.fill, opacity: 1 },
      });
    });
    const fit = p.fit || p.hists[0];
    series.push({
      type: "line", xAxisIndex: xi, yAxisIndex: yi, silent: true, symbol: "none", z: 3,
      smooth: 0.3, smoothMonotone: "x", data: fit,
      lineStyle: { color: k === 3 ? NAVY : "#000", width: 1.1 },
    });
    p.comps.forEach((c) => {
      series.push({
        type: "line", xAxisIndex: xi, yAxisIndex: yi, silent: true, symbol: "none", z: 3,
        smooth: 0.35, smoothMonotone: "x", data: c,
        lineStyle: { color: "#000", width: 0.8 },
      });
    });
    if ((p as any).spike) {
      series.push({
        type: "line", xAxisIndex: xi, yAxisIndex: yi, silent: true, symbol: "none", z: 4,
        data: (p as any).spike,
        lineStyle: { color: "#8B0000", width: 2 },
      });
    }
  });

  // titles
  graphic.push(textEl("(a)", 83, 23, 21));
  graphic.push(textEl("simulation time (ps)", 195, 23, 22));
  graphic.push(textEl("(b)", 328, 23, 21));
  graphic.push(textEl("normalized frequency", 493, 23, 22));
  graphic.push(textEl("height (Å)", 797, 24, 22));
  graphic.push(textEl("simulation time (ns)", 195, 523, 22));
  graphic.push(textEl("normalized frequency", 493, 523, 22));
  graphic.push(textEl("height (Å)", 797, 524, 22));
  graphic.push(textEl("<molecular height> (Å)", 25, 262, 23, "center", Math.PI / 2));
  graphic.push(textEl("frequency", 958, 280, 22, "center", Math.PI / 2));

  // legends
  const ctx = document.createElement("canvas").getContext("2d") as CanvasRenderingContext2D;
  const MAIN = 14;
  const SMALL = 10.5;
  legendItems.forEach((it) => {
    graphic.push({ type: "line", silent: true, shape: { x1: 527, y1: it.y, x2: 543, y2: it.y }, style: { stroke: it.color, lineWidth: 3 } });
    graphic.push(textEl(it.main, 547, it.y, MAIN, "left"));
    ctx.font = `${MAIN}px ${SERIF_CSS}`;
    const w = ctx.measureText(it.main).width;
    const sx = 547 + w + 1;
    graphic.push(textEl(it.sup, sx, it.y - 8, SMALL, "left"));
    if (it.sub === "q") {
      graphic.push({
        type: "text", x: sx, y: it.y + 7, silent: true,
        style: {
          text: "{p|(q}{s|HF}{p|)}",
          align: "left", textAlign: "left", verticalAlign: "middle", textVerticalAlign: "middle",
          rich: {
            p: { fontSize: SMALL, fontFamily: SERIF, fill: "#000", lineHeight: 12 },
            s: { fontSize: 7, fontFamily: SERIF, fill: "#000", lineHeight: 7, verticalAlign: "bottom" },
          },
        },
      });
    } else {
      graphic.push(textEl(it.sub, sx, it.y + 7, SMALL, "left"));
    }
  });

  return { option: { animation: false, textStyle: { fontFamily: SERIF }, grid, xAxis, yAxis, series }, graphic, yLabels };
}

export default function App() {
  const ref = useRef<HTMLDivElement>(null);
  useEffect(() => {
    const el = ref.current as HTMLDivElement;
    const chart = echarts.init(el, null, { renderer: "svg" });
    const { option, graphic, yLabels } = buildOption();
    chart.setOption(option as any);
    // y tick labels placed through the axes' own scales; shrink them where ticks are close
    const labelEls: any[] = [];
    yLabels.forEach((s) => {
      const pys = s.values.map((v) => chart.convertToPixel({ yAxisIndex: s.yi } as any, v) as number);
      let gap = Infinity;
      for (let i = 1; i < pys.length; i++) gap = Math.min(gap, Math.abs(pys[i] - pys[i - 1]));
      const size = Math.min(s.size, gap - 1);
      s.values.forEach((v, i) => {
        labelEls.push(textEl(String(v), s.x, pys[i], size, s.align));
      });
    });
    chart.setOption({ graphic: [...graphic, ...labelEls] } as any);
    return () => chart.dispose();
  }, []);
  return <div ref={ref} style={{ position: "fixed", left: 0, top: 0, width: 970, height: 536, background: "#fff" }} />;
}
